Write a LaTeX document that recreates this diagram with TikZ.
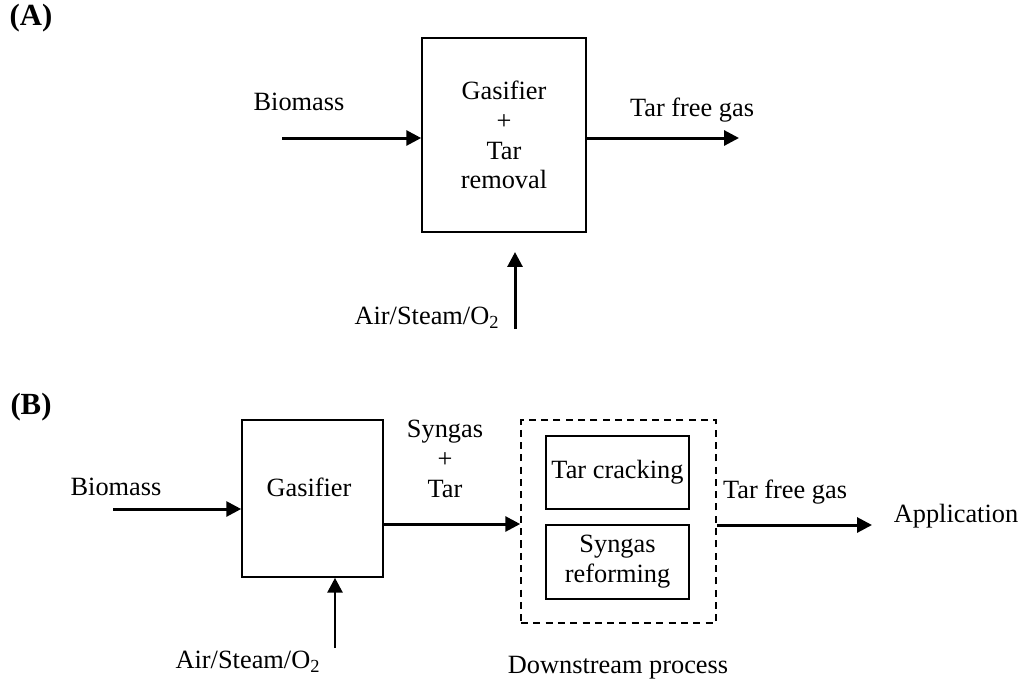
\documentclass[tikz,border=0pt]{standalone}
\usepackage{fontspec}
\setmainfont{Liberation Serif}
\usetikzlibrary{arrows.meta}
\tikzset{
  flow/.style={line width=1.7pt,-{Triangle[length=8.5pt,width=8.5pt]}},
  unit/.style={draw,line width=0.9pt,inner sep=0pt,align=center},
  lbl/.style={inner sep=0pt,align=center},
  part/.style={inner sep=0pt,font=\fontsize{17.5}{20}\selectfont\bfseries}
}
\begin{document}
\begin{tikzpicture}[x=0.02cm,y=-0.02cm,font=\fontsize{15}{17}\selectfont]
    \useasboundingbox (0,0) rectangle (1023,684);

    \begin{scope}[shift={(0,0)}]
      \node[part](PA) at (31,18) {(A)};
      \node[unit,minimum width=3.28cm,minimum height=3.88cm](G) at (504,135) {Gasifier\\+\\Tar\\removal};
      \coordinate(bm) at (282,138);
      \coordinate(out) at (739,138);
      \coordinate(air) at (515,329);
      \coordinate(tip) at (515,252);
      \draw[flow](bm)--(bm-|G.west);
      \draw[flow](out-|G.east)--(out);
      \draw[flow](air)--(tip);
      \node[lbl](bmt) at (299,102) {Biomass};
      \node[lbl](outt) at (692,110) {Tar free gas};
      \node[lbl](airt) at (427,318) {Air/Steam/O\textsubscript{2}};
    \end{scope}

    \begin{scope}[shift={(0,0)}]
      \node[part](PB) at (31,407) {(B)};
      \node[unit,minimum width=2.82cm,minimum height=3.14cm](G) at (312.5,498.5) {};
      \node[lbl](Gt) at (309,487) {Gasifier};
      \node[unit,dash pattern=on 4pt off 3pt,minimum width=3.9cm,minimum height=4.06cm](D) at (618.5,521.5) {};
      \node[unit,minimum width=2.86cm,minimum height=1.46cm](C) at (617.5,472.5) {Tar cracking};
      \node[unit,minimum width=2.86cm,minimum height=1.48cm](R) at (617.5,562) {Syngas\\reforming};
      \coordinate(bm) at (113,509);
      \coordinate(syn) at (383,524);
      \coordinate(out) at (872,525);
      \coordinate(air) at (335,648);
      \draw[flow](bm)--(bm-|G.west);
      \draw[flow](syn-|G.east)--(syn-|D.west);
      \draw[flow](out-|D.east)--(out);
      \draw[flow](air)--(air|-G.south);
      \node[lbl](bmt) at (116,487) {Biomass};
      \node[lbl](synt) at (445,459) {Syngas\\+\\Tar};
      \node[lbl](outt) at (785,492) {Tar free gas};
      \node[lbl](app) at (956,516) {Application};
      \node[lbl](airt) at (248,662) {Air/Steam/O\textsubscript{2}};
      \node[lbl](dst) at (618,668) {Downstream process};
    \end{scope}
  \end{tikzpicture}
\end{document}
